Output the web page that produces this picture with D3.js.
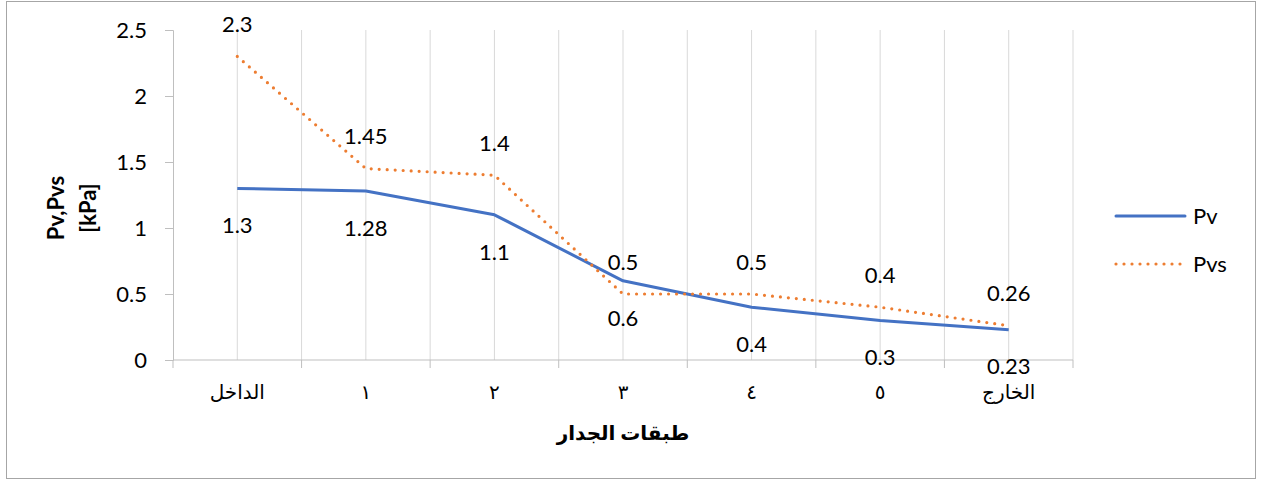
<!DOCTYPE html>
<html lang="ar">
<head>
<meta charset="UTF-8">
<title>Pv Pvs</title>
<script src="https://d3js.org/d3.v7.min.js"></script>
<style>
    body { margin: 0; background: #fff; }
    svg text { font-family: Lato, "DejaVu Sans", sans-serif; fill: #000; }
</style>
</head>
<body>
<svg id="chart" width="1261" height="482"></svg>
<script>
    // categories (wall layers) and series
    let layers = ["الداخل", "١", "٢", "٣", "٤", "٥", "الخارج"];
    let pv = [1.3, 1.28, 1.1, 0.6, 0.4, 0.3, 0.23];
    let pvs = [2.3, 1.45, 1.4, 0.5, 0.5, 0.4, 0.26];
    let yTicks = [0, 0.5, 1, 1.5, 2, 2.5];

    let svg = d3.select("#chart");
    let plotLeft = 173, plotRight = 1073, plotTop = 30, plotBottom = 360;
    let fs = "22px";

    // outer frame
    svg.append("rect")
        .attr("x", 6.5).attr("y", 1.5)
        .attr("width", 1249).attr("height", 477)
        .attr("fill", "#fff")
        .attr("stroke", "#a6a6a6")
        .attr("stroke-width", 1);

    let x = d3.scaleBand().domain(layers).range([plotLeft, plotRight]);
    let y = d3.scaleLinear().domain([0, 2.5]).range([plotBottom, plotTop]);
    let cx = d => x(d) + x.bandwidth() / 2;

    // vertical gridlines at centers and boundaries
    let gridX = [];
    layers.forEach(function (c) { gridX.push(x(c)); gridX.push(cx(c)); });
    gridX.push(plotRight);
    svg.append("g").selectAll("line")
        .data(gridX.slice(1))
        .join("line")
        .attr("x1", d => d).attr("x2", d => d)
        .attr("y1", plotTop).attr("y2", plotBottom)
        .attr("stroke", "#d9d9d9")
        .attr("stroke-width", 1);

    // y axis
    let yAxis = svg.append("g")
        .attr("transform", "translate(" + plotLeft + ",0)")
        .call(d3.axisLeft(y).tickValues(yTicks).tickSize(8).tickPadding(18).tickFormat(d => String(d)));
    yAxis.attr("font-family", null);
    yAxis.select(".domain").attr("stroke", "#bfbfbf");
    yAxis.selectAll(".tick line").attr("stroke", "#bfbfbf");
    yAxis.selectAll("text").style("font-size", fs).attr("fill", "#000");

    // x axis
    let xAxis = svg.append("g")
        .attr("transform", "translate(0," + plotBottom + ")");
    xAxis.append("line")
        .attr("x1", plotLeft).attr("x2", plotRight)
        .attr("stroke", "#bfbfbf");
    xAxis.selectAll(".tk")
        .data(layers.map(c => x(c)).concat([plotRight]))
        .join("line")
        .attr("class", "tk")
        .attr("x1", d => d).attr("x2", d => d)
        .attr("y1", 0).attr("y2", 8)
        .attr("stroke", "#bfbfbf");
    xAxis.selectAll("text")
        .data(layers)
        .join("text")
        .attr("x", d => cx(d))
        .attr("y", 32)
        .attr("dy", "0.35em")
        .attr("text-anchor", "middle")
        .style("font-size", "20px")
        .text(d => d);

    // lines
    let line = d3.line().x((d, i) => cx(layers[i])).y(d => y(d));
    svg.append("path")
        .datum(pv)
        .attr("d", line)
        .attr("fill", "none")
        .attr("stroke", "#4472C4")
        .attr("stroke-width", 3)
        .attr("stroke-linejoin", "round");
    svg.append("path")
        .datum(pvs)
        .attr("d", line)
        .attr("fill", "none")
        .attr("stroke", "#ED7D31")
        .attr("stroke-width", 3.2)
        .attr("stroke-linecap", "round")
        .attr("stroke-dasharray", "0,8");

    // data labels
    svg.append("g").selectAll("text")
        .data(pvs)
        .join("text")
        .attr("x", (d, i) => cx(layers[i]))
        .attr("y", d => y(d) - 32)
        .attr("dy", "0.35em")
        .attr("text-anchor", "middle")
        .style("font-size", fs)
        .text(d => d);
    svg.append("g").selectAll("text")
        .data(pv)
        .join("text")
        .attr("x", (d, i) => cx(layers[i]))
        .attr("y", d => y(d) + 37)
        .attr("dy", "0.35em")
        .attr("text-anchor", "middle")
        .style("font-size", fs)
        .text(d => d);

    // axis titles
    let yTitle = svg.append("text")
        .attr("transform", "translate(72,208) rotate(-90)")
        .attr("text-anchor", "middle")
        .style("font-size", fs)
        .style("font-weight", "bold");
    yTitle.append("tspan").attr("x", 0).attr("y", -8).text("Pv,Pvs");
    yTitle.append("tspan").attr("x", 0).attr("y", 24).text("[kPa]");

    svg.append("text")
        .attr("x", (plotLeft + plotRight) / 2)
        .attr("y", 433)
        .attr("dy", "0.35em")
        .attr("text-anchor", "middle")
        .style("font-size", "20px")
        .style("font-weight", "bold")
        .text("طبقات الجدار");

    // legend
    let legend = [
        {name: "Pv", color: "#4472C4", dash: null, w: 3},
        {name: "Pvs", color: "#ED7D31", dash: "0,8", w: 3.2}
    ];
    let lg = svg.append("g").selectAll("g")
        .data(legend)
        .join("g")
        .attr("transform", (d, i) => "translate(1116," + (216 + i * 48) + ")");
    lg.append("line")
        .attr("x1", 0).attr("x2", 69)
        .attr("stroke", d => d.color)
        .attr("stroke-width", d => d.w)
        .attr("stroke-linecap", "round")
        .attr("stroke-dasharray", d => d.dash);
    lg.append("text")
        .attr("x", 77)
        .attr("dy", "0.35em")
        .style("font-size", fs)
        .text(d => d.name);
</script>
</body>
</html>
